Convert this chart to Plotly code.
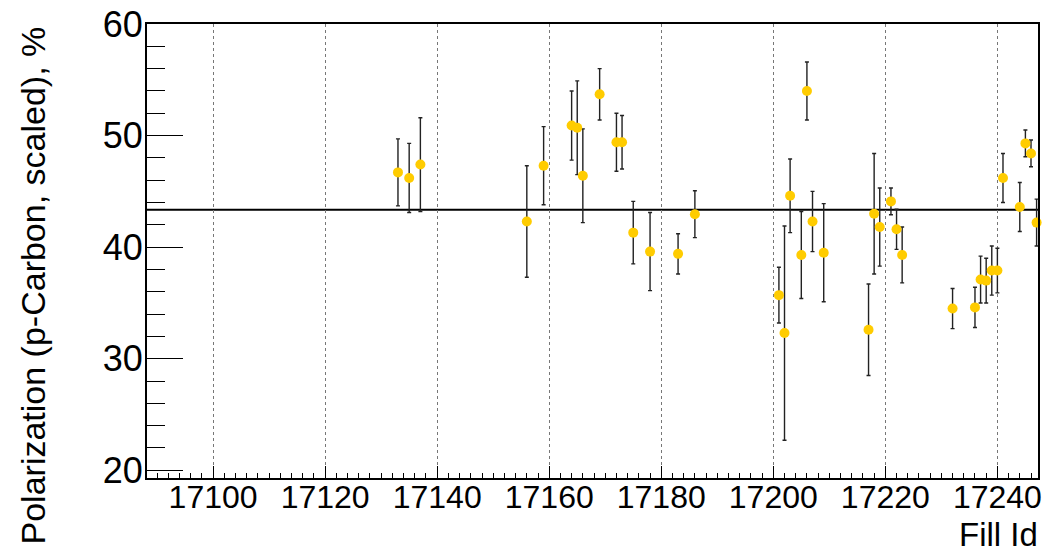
import plotly.graph_objects as go

fills = [17133, 17135, 17137, 17156, 17159, 17164, 17165, 17166, 17169, 17172,
         17173, 17175, 17178, 17183, 17186, 17201, 17202, 17203, 17205, 17206,
         17207, 17209, 17217, 17218, 17219, 17221, 17222, 17223, 17232, 17236,
         17237, 17238, 17239, 17240, 17241, 17244, 17245, 17246, 17247]
polarization = [46.7, 46.2, 47.4, 42.3, 47.3, 50.9, 50.7, 46.4, 53.7, 49.4,
                49.4, 41.3, 39.6, 39.4, 42.95, 35.7, 32.3, 44.6, 39.3, 54.0,
                42.3, 39.5, 32.6, 43.0, 41.8, 44.1, 41.6, 39.3, 34.5, 34.6,
                37.1, 37.0, 37.9, 37.9, 46.2, 43.6, 49.3, 48.4, 42.2]
errors = [3.0, 3.1, 4.2, 5.0, 3.5, 3.1, 4.2, 4.2, 2.3, 2.6,
          2.4, 2.8, 3.5, 1.8, 2.1, 2.5, 9.6, 3.3, 3.9, 2.6,
          2.7, 4.4, 4.1, 5.4, 3.5, 1.2, 1.8, 2.5, 1.8, 1.8,
          2.1, 2.0, 2.2, 2.0, 2.2, 2.2, 1.2, 1.2, 2.1]
mean_pol = 43.36

x_range = [17088.2, 17247.25]
y_range = [19.31, 60]
x_ticks = [17100, 17120, 17140, 17160, 17180, 17200, 17220, 17240]
y_ticks = [20, 30, 40, 50, 60]

FONT = "Liberation Sans, Arial, Helvetica, sans-serif"

fig = go.Figure()
fig.add_trace(go.Scatter(
    x=fills, y=polarization, mode="markers",
    marker=dict(color="#FFCC00", size=10, line=dict(width=0)),
    error_y=dict(type="data", array=errors, visible=True,
                 color="#222222", thickness=1.4, width=2),
    cliponaxis=False, showlegend=False,
))

fig.add_shape(type="line", xref="paper", yref="y", x0=0, x1=1,
              y0=mean_pol, y1=mean_pol, line=dict(color="black", width=2),
              layer="between")

fig.update_layout(
    width=1046, height=553,
    margin=dict(l=147, r=4, t=21, b=75),
    paper_bgcolor="white", plot_bgcolor="white",
    font=dict(family=FONT, color="black"),
    showlegend=False,
    xaxis=dict(
        range=x_range, tickvals=x_ticks, ticktext=[str(v) for v in x_ticks],
        ticks="inside", ticklen=12, tickwidth=1, tickcolor="black",
        minor=dict(dtick=2, ticks="inside", ticklen=5, tickcolor="black", showgrid=False),
        showgrid=True, gridcolor="#777777", griddash="dot", gridwidth=1,
        showline=True, linecolor="black", linewidth=2, mirror=True,
        tickfont=dict(size=32, family=FONT), ticklabelstandoff=-10,
        zeroline=False,
    ),
    yaxis=dict(
        range=y_range, tickvals=y_ticks, ticktext=[str(v) for v in y_ticks],
        ticks="inside", ticklen=36, tickwidth=1, tickcolor="black",
        minor=dict(dtick=2, tick0=0, ticks="inside", ticklen=18, tickcolor="black", showgrid=False),
        showgrid=False,
        showline=True, linecolor="black", linewidth=2, mirror=True,
        tickfont=dict(size=36, family=FONT), ticklabelstandoff=-5,
        zeroline=False,
    ),
    annotations=[
        dict(text="Polarization (p-Carbon, scaled), %", xref="paper", yref="paper",
             x=-0.1274, y=1.0, xanchor="center", yanchor="top", textangle=-90,
             showarrow=False, font=dict(size=34, family=FONT, color="black")),
        dict(text="Fill Id", xref="paper", yref="paper",
             x=1.002, y=-0.125, xanchor="right", yanchor="middle",
             showarrow=False, font=dict(size=33, family=FONT, color="black")),
    ],
)

fig.write_html("out.html", config={"displayModeBar": False},
               post_script="document.body.style.margin='0';document.body.style.padding='0';")
